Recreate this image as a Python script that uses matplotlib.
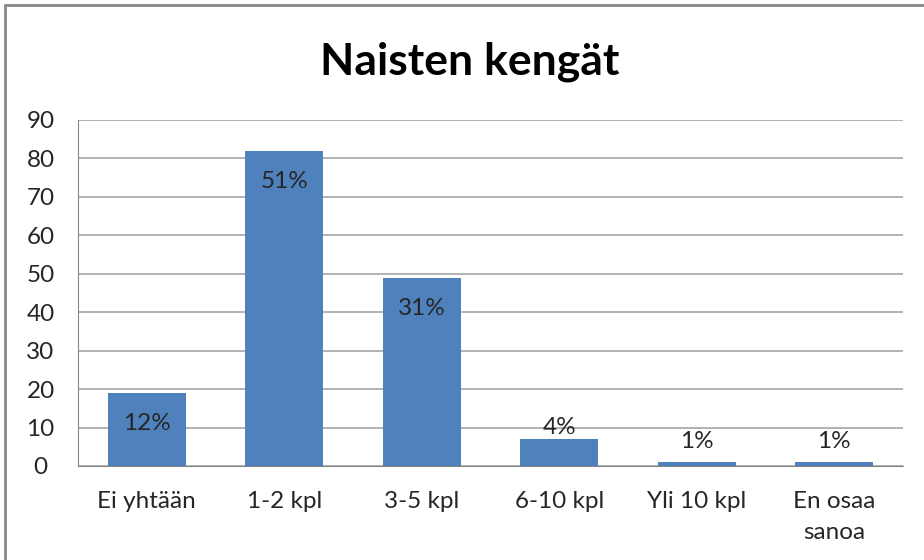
import matplotlib.pyplot as plt
from matplotlib.patches import Rectangle

# data
categories = ['Ei yhtään', '1-2 kpl', '3-5 kpl', '6-10 kpl', 'Yli 10 kpl', 'En osaa\nsanoa']
values = [19, 82, 49, 7, 1, 1]
labels = ['12%', '51%', '31%', '4%', '1%', '1%']
yticks = list(range(0, 100, 10))

plt.rcParams['font.family'] = ['Lato', 'DejaVu Sans']

fig = plt.figure(figsize=(9.24, 5.6), dpi=100)
ax = fig.add_axes([78 / 924, 1 - 466 / 560, 825 / 924, 346 / 560])

# outer chart border (right and bottom cut off in the original)
fig.patches.append(Rectangle((5 / 924, -0.1), 1.2, 1 - 5 / 560 + 0.1,
                             transform=fig.transFigure, fill=False,
                             edgecolor='#888888', linewidth=2))

x = range(len(categories))
bars = ax.bar(x, values, width=0.565, color='#4F81BD', zorder=3)

# value labels: inside near the top for tall bars, above for short ones
for b, lab in zip(bars, labels):
    h = b.get_height()
    if h > 15:
        ly = h - 8
    else:
        ly = max(h + 3, 6.5)
    ax.text(b.get_x() + b.get_width() / 2, ly, lab, ha='center', va='center',
            fontsize=17.5, color='#262626', zorder=4)

ax.set_ylim(0, 90)
ax.set_xlim(-0.5, len(categories) - 0.5)
ax.set_yticks(yticks)
ax.set_xticks(list(x))
ax.set_xticklabels(categories, fontsize=17.5, color='#262626', linespacing=1.6)
ax.tick_params(axis='y', labelsize=17.5, labelcolor='#262626', length=0, pad=27)
ax.tick_params(axis='x', length=0, pad=18)
for lbl in ax.get_yticklabels():
    lbl.set_horizontalalignment('center')

ax.yaxis.grid(True, color='#a6a6a6', linewidth=1.2, zorder=0)
ax.spines['right'].set_visible(False)
ax.spines['top'].set_visible(False)
for s in ['left', 'bottom']:
    ax.spines[s].set_color('#868686')

fig.text(470 / 924, 1 - 62 / 560, 'Naisten kengät', ha='center', va='center',
         fontsize=32, fontweight='bold', color='black')

fig.savefig('out.png', dpi=100)
